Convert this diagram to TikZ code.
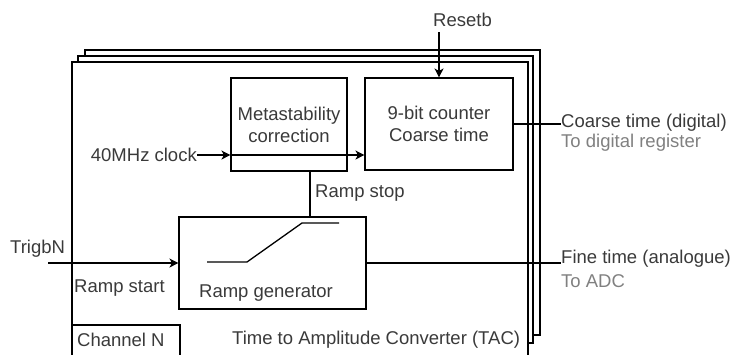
\documentclass[tikz,border=0pt]{standalone}
\usepackage{fontspec}
\setmainfont{Liberation Sans}
\usetikzlibrary{arrows.meta}
\definecolor{txt}{HTML}{3A3A3A}
\definecolor{subtxt}{HTML}{808080}
\begin{document}
\begin{tikzpicture}[x=1pt,y=-1pt,
  every node/.style={font=\fontsize{18.5}{22}\selectfont, text=txt, inner sep=0pt},
  blk/.style={draw, line width=1.1pt, fill=white, align=center},
  frame/.style={draw, line width=1.1pt, fill=white},
  conn/.style={draw, line width=1.1pt},
  arr/.style={conn, -{Stealth[length=9pt,width=9pt,inset=2.5pt]}},
  sub/.style={text=subtxt}]
\useasboundingbox (0,0) rectangle (739,354);
% stacked frames (channels)
\draw[frame] (85,50) rectangle (540,335);
\draw[frame] (78,56) rectangle (533,343);
\draw[frame] (72,62) rectangle (528,380);
% blocks
\node[blk, minimum width=116pt, minimum height=93pt] (meta) at (289,124.5) {Metastability\\correction};
\node[blk, minimum width=148pt, minimum height=92pt] (cnt) at (439,124) {9-bit counter\\Coarse time};
\node[blk, minimum width=187pt, minimum height=92pt] (ramp) at (272.5,263) {};
\node (rampl) at (266,293) {Ramp generator};
\draw[line width=1.3pt] (207,262) -- (247,262) -- (302,223) -- (339,223);
% channel box
\draw[frame] (72,325) rectangle (180,380);
\node[anchor=west] (chn) at (77,340) {Channel N};
\node[anchor=west] (tac) at (232,340) {Time to Amplitude Converter (TAC)};
% clock
\node[anchor=east] (clk) at (197,155) {40MHz clock};
\draw[arr] (clk.east) -- (clk.east -| meta.west);
\draw[arr] (clk.east -| meta.west) -- (clk.east -| cnt.west);
% reset
\node[anchor=west] (rst) at (433,20) {Resetb};
\coordinate (rsttop) at (439,32);
\draw[arr] (rsttop) -- (cnt.north);
% coarse output
\node[anchor=west] (coarse) at (561,123) {Coarse time (digital)};
\node[anchor=west, sub] (coarse2) at (561,143) {To digital register};
\draw[conn] (cnt.east) -- (cnt.east -| coarse.west);
% ramp stop
\coordinate (rs) at (310,0);
\draw[conn] (meta.south -| rs) -- (ramp.north -| rs);
\node[anchor=west] (rstop) at (315,193) {Ramp stop};
% trigger
\node[anchor=west] (trig) at (10,249) {TrigbN};
\coordinate (trigin) at (48,263);
\draw[arr] (trigin) -- (ramp.west);
\node[anchor=west] (rstart) at (74,288) {Ramp start};
% fine output
\node[anchor=west] (fine) at (561,259) {Fine time (analogue)};
\node[anchor=west, sub] (fine2) at (561,281) {To ADC};
\draw[conn] (ramp.east) -- (ramp.east -| fine.west);
\end{tikzpicture}
\end{document}
